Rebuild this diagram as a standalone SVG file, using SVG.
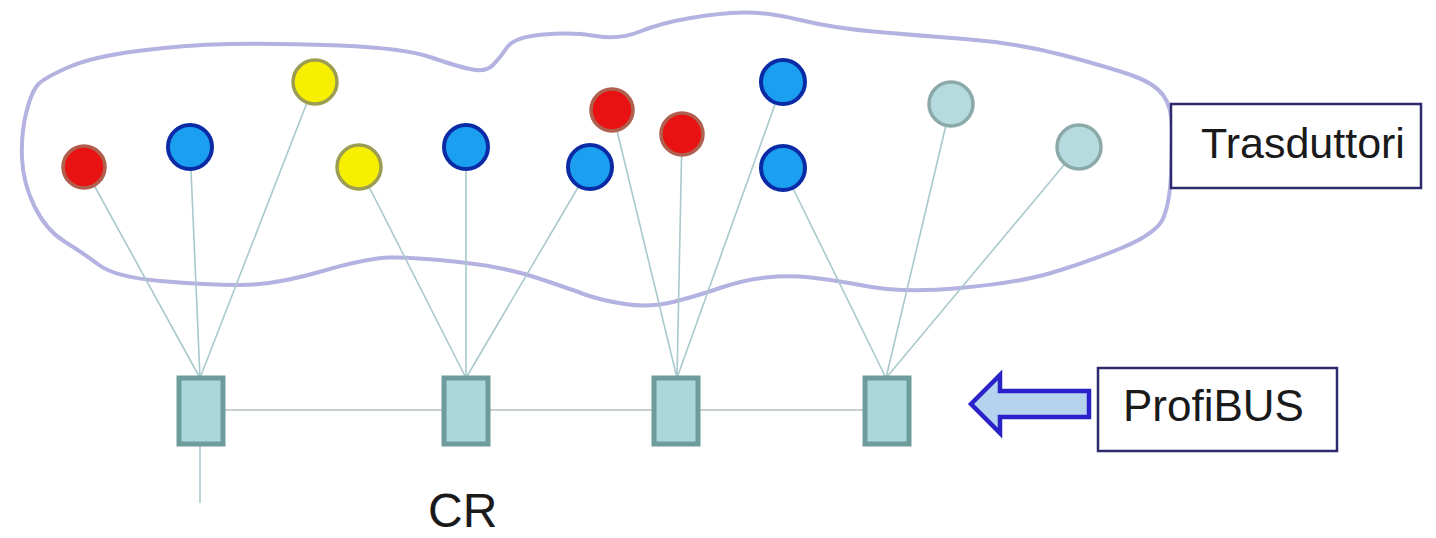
<svg xmlns="http://www.w3.org/2000/svg" width="1436" height="538" viewBox="0 0 1436 538">
<style>
.cloud{fill:none;stroke:#b4b2e0;stroke-width:4;stroke-linejoin:round}
.wire{stroke:#a9c9cd;stroke-width:1.6;fill:none}
.bus{stroke:#c6cece;stroke-width:2;fill:none}
.red{fill:#e81212;stroke:#b0604e;stroke-width:3.5}
.blue{fill:#1b9ff0;stroke:#0b2aa6;stroke-width:4}
.yellow{fill:#f6f000;stroke:#9c9c52;stroke-width:3.5}
.gray{fill:#b6dbde;stroke:#8aa9a8;stroke-width:3.5}
.cr{fill:#a9d7db;stroke:#6e9b9b;stroke-width:5}
.box{fill:#fff;stroke:#2e2a6e;stroke-width:2.5}
.lbl{font-family:"Liberation Sans",Arial,sans-serif;fill:#1a1a1a}
</style>
<rect width="1436" height="538" fill="#fff"/>
<path class="cloud" d="M26.5,111.5 Q32,90 39,83.5 Q46,77 69,67 Q92,57 137.5,51 Q183,45 229,44 Q275,43 339.5,45.5 Q404,48 431.5,57.5 Q459,67 472.5,69.5 Q486,72 493,65 Q500,58 507,47.5 Q514,37 543.5,34.5 Q573,32 596,36 Q619,40 640,31.5 Q661,23 690.5,18 Q720,13 743,12.5 Q766,12 800,20 Q834,28 873,31.5 Q912,35 964.5,39 Q1017,43 1062.5,55 Q1108,67 1131,75 Q1154,83 1163,95 Q1172,107 1172,128.5 Q1172,150 1171,175 Q1170,200 1164,216.5 Q1158,233 1121.5,248 Q1085,263 1051,273 Q1017,283 960,288 Q903,293 868.5,286.5 Q834,280 811,277.5 Q788,275 765.5,277.5 Q743,280 721.5,287.5 Q700,295 675,301.5 Q650,308 625,304 Q600,300 586.5,295 Q573,290 539,278.5 Q505,267 459,262 Q413,257 390,257.5 Q367,258 321,271.5 Q275,285 240.5,285 Q206,285 160.5,281 Q115,277 99,265 Q83,253 64.5,241.5 Q46,230 34.5,206.5 Q23,183 22,158 Q21,133 26.5,111.5 Z"/>
<g id="connectors">
<line class="wire" x1="84" y1="167" x2="200" y2="378"/>
<line class="wire" x1="190" y1="147" x2="200" y2="378"/>
<line class="wire" x1="315" y1="82" x2="200" y2="378"/>
<line class="wire" x1="359" y1="167" x2="466" y2="378"/>
<line class="wire" x1="466" y1="147" x2="466" y2="378"/>
<line class="wire" x1="590" y1="167" x2="466" y2="378"/>
<line class="wire" x1="612" y1="110" x2="677" y2="378"/>
<line class="wire" x1="682" y1="134" x2="677" y2="378"/>
<line class="wire" x1="783" y1="82" x2="677" y2="378"/>
<line class="wire" x1="783" y1="168" x2="886" y2="378"/>
<line class="wire" x1="951" y1="104" x2="886" y2="378"/>
<line class="wire" x1="1079" y1="147" x2="886" y2="378"/>
<line class="bus" x1="224" y1="410" x2="863" y2="410"/>
<line class="wire" x1="200" y1="445" x2="200" y2="503"/>
</g>
<g id="t-red1"><circle class="red" cx="84" cy="167" r="21"/></g>
<g id="t-blue1"><circle class="blue" cx="190" cy="147" r="22"/></g>
<g id="t-yellow1"><circle class="yellow" cx="315" cy="82" r="22"/></g>
<g id="t-yellow2"><circle class="yellow" cx="359" cy="167" r="22"/></g>
<g id="t-blue2"><circle class="blue" cx="466" cy="147" r="22"/></g>
<g id="t-blue3"><circle class="blue" cx="590" cy="167" r="22"/></g>
<g id="t-red2"><circle class="red" cx="612" cy="110" r="21"/></g>
<g id="t-red3"><circle class="red" cx="682" cy="134" r="21"/></g>
<g id="t-blue4"><circle class="blue" cx="783" cy="82" r="22"/></g>
<g id="t-blue5"><circle class="blue" cx="783" cy="168" r="22"/></g>
<g id="t-gray1"><circle class="gray" cx="951" cy="104" r="22"/></g>
<g id="t-gray2"><circle class="gray" cx="1079" cy="147" r="22"/></g>
<g id="cr1"><rect class="cr" x="179" y="378" width="44" height="66"/></g>
<g id="cr2"><rect class="cr" x="444" y="378" width="44" height="66"/></g>
<g id="cr3"><rect class="cr" x="654" y="378" width="44" height="66"/></g>
<g id="cr4"><rect class="cr" x="865" y="378" width="44" height="66"/></g>
<g id="trasduttori"><rect class="box" x="1171" y="104" width="250" height="84"/><text class="lbl" x="1201" y="158" font-size="43">Trasduttori</text></g>
<g id="profibus"><rect class="box" x="1098" y="368" width="239" height="83"/><text class="lbl" x="1123" y="421" font-size="44">ProfiBUS</text></g>
<g id="arrow"><polygon points="971,404 1000,375 1000,391 1089,391 1089,417 1000,417 1000,433" fill="#b5d2ee" stroke="#2a22c8" stroke-width="4.5" stroke-linejoin="miter"/></g>
<g id="cr-label"><text class="lbl" x="428" y="527" font-size="48">CR</text></g>
</svg>
